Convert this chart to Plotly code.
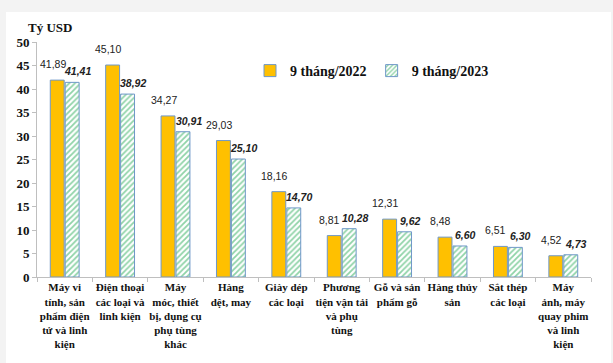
import plotly.graph_objects as go

categories = [
    "Máy vi<br>tính, sản<br>phẩm điện<br>tử và linh<br>kiện",
    "Điện thoại<br>các loại và<br>linh kiện",
    "Máy<br>móc, thiết<br>bị, dụng cụ<br>phụ tùng<br>khác",
    "Hàng<br>dệt, may",
    "Giày dép<br>các loại",
    "Phương<br>tiện vận tải<br>và phụ<br>tùng",
    "Gỗ và sản<br>phẩm gỗ",
    "Hàng thủy<br>sản",
    "Sắt thép<br>các loại",
    "Máy<br>ảnh, máy<br>quay phim<br>và linh<br>kiện",
]
values_2022 = [41.89, 45.10, 34.27, 29.03, 18.16, 8.81, 12.31, 8.48, 6.51, 4.52]
values_2023 = [41.41, 38.92, 30.91, 25.10, 14.70, 10.28, 9.62, 6.60, 6.30, 4.73]
series_names = ["9 tháng/2022", "9 tháng/2023"]
y_ticks = [0, 5, 10, 15, 20, 25, 30, 35, 40, 45, 50]

def fmt(v):
    return f"{v:.2f}".replace(".", ",")

serif = "Times New Roman, Liberation Serif, DejaVu Serif, serif"
sans = "Liberation Sans, Arial, DejaVu Sans, sans-serif"
outline = "#6f98c8"

fig = go.Figure()
fig.add_trace(go.Bar(
    x=categories, y=values_2022, name=series_names[0],
    marker=dict(color="#FFC000", line=dict(color=outline, width=1)),
))
fig.add_trace(go.Bar(
    x=categories, y=values_2023, name=series_names[1],
    marker=dict(color="white", line=dict(color=outline, width=1),
                pattern=dict(shape="/", fgcolor="#1FA84F", bgcolor="white",
                             size=4, solidity=0.45)),
))

annotations = []
for c, v in zip(categories, values_2022):
    annotations.append(dict(x=c, y=v, text=fmt(v), showarrow=False,
                            xanchor="center", yanchor="bottom", xshift=-12, yshift=8,
                            font=dict(family=sans, size=10.5, color="#222")))
for c, v in zip(categories, values_2023):
    annotations.append(dict(x=c, y=v, text=fmt(v), showarrow=False,
                            xanchor="center", yanchor="bottom", xshift=13, yshift=3,
                            font=dict(family=sans, size=10.5, color="#222",
                                      weight="bold", style="italic")))

W, H = 613, 363
ml, mr, mt, mb = 37, 22, 42, 86
pw, ph = W - ml - mr, H - mt - mb
def px(xp): return (xp - ml) / pw
def py(yp): return (H - mb - yp) / ph

annotations.append(dict(xref="paper", yref="paper", x=px(26), y=py(27),
                        xanchor="left", yanchor="middle", showarrow=False,
                        text="Tỷ USD",
                        font=dict(family=serif, size=13, color="#111", weight="bold")))
fig.update_layout(annotations=annotations)

# white panel over light-gray page
fig.add_shape(type="rect", xref="paper", yref="paper", layer="below",
              x0=px(6), x1=px(611), y0=py(366), y1=py(12),
              fillcolor="white", line=dict(width=0))

fig.update_layout(
    width=W, height=H,
    margin=dict(l=ml, r=mr, t=mt, b=mb, autoexpand=False),
    paper_bgcolor="#f3f3f3", plot_bgcolor="rgba(0,0,0,0)",
    barmode="group", bargap=0.46, bargroupgap=0.07,
    showlegend=True,
    legend=dict(orientation="h", x=px(250), y=py(71), xanchor="left", yanchor="middle",
                font=dict(family=serif, size=14, color="#111", weight="bold"),
                itemwidth=30, bgcolor="rgba(0,0,0,0)"),
    font=dict(family=serif, color="#111"),
)
fig.update_xaxes(
    tickfont=dict(family=serif, size=11, color="#111", weight="bold"),
    showline=True, linecolor="#bfbfbf", linewidth=1,
    ticks="outside", tickson="boundaries", ticklen=4, tickcolor="#bfbfbf",
    showgrid=False, tickangle=0, automargin=False,
)
fig.update_yaxes(
    range=[0, 50], tickvals=y_ticks,
    tickfont=dict(family=serif, size=13, color="#111", weight="bold"),
    showline=True, linecolor="#bfbfbf", linewidth=1,
    ticks="outside", ticklen=4, tickcolor="#bfbfbf",
    showgrid=False, zeroline=False, automargin=False,
)

fig.write_html("out.html", config={"displayModeBar": False},
               post_script="document.body.style.margin='0';document.body.style.overflow='hidden';")
